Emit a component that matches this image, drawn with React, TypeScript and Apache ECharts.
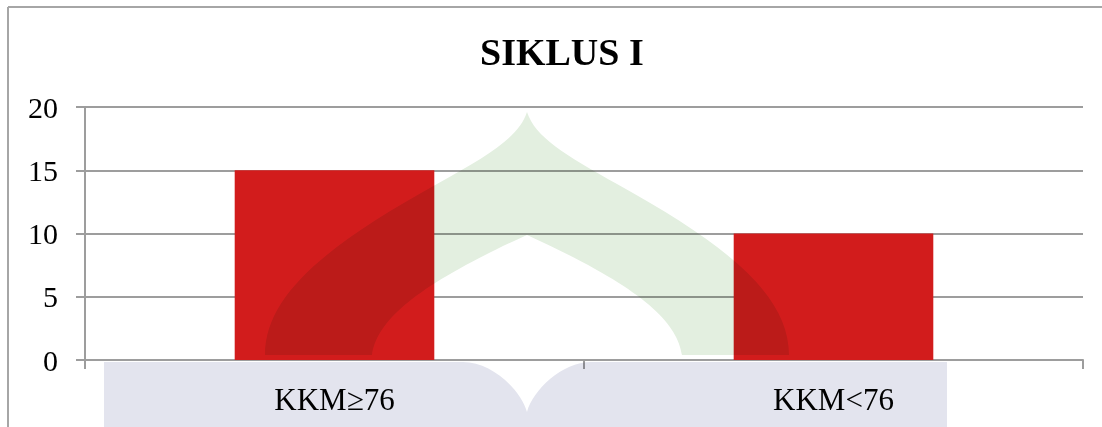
import React, { useEffect, useRef } from "react";
import * as echarts from "echarts";

const title = "SIKLUS I";
const categories = ["KKM≥76", "KKM<76"];
const values = [15, 10];
const yTicks = { min: 0, max: 20, interval: 5 };

const DOME_D =
  "M0,-243 C-8,-218 -38,-200 -90,-171 C-200,-110 -262,-60 -262,0 L-155,0 C-150,-35 -110,-70 0,-120 C110,-70 150,-35 155,0 L262,0 C262,-60 200,-110 90,-171 C38,-200 8,-218 0,-243 Z";
const BASE_D =
  "M-423,0 L-64,0 C-35,0 -6,28 0,50 C6,28 35,0 64,0 L420,0 L420,70 L-423,70 Z";

let registered = false;
function registerShapes() {
  if (registered) return;
  registered = true;
  echarts.graphic.registerShape("dome", echarts.graphic.extendPath(DOME_D, {}) as any);
  echarts.graphic.registerShape("base", echarts.graphic.extendPath(BASE_D, {}) as any);
}

const FONT = "'Liberation Serif', 'Times New Roman', serif";

export default function App() {
  const ref = useRef<HTMLDivElement>(null);
  useEffect(() => {
    if (!ref.current) return;
    registerShapes();
    const chart = echarts.init(ref.current, undefined, { renderer: "svg" });
    chart.setOption({
      animation: false,
      backgroundColor: "#ffffff",
      title: {
        text: title,
        left: 475,
        top: 28,
        textStyle: { fontFamily: FONT, fontSize: 38, fontWeight: "bold", color: "#000" },
      },
      grid: { left: 85, right: 19, top: 107, bottom: 67, containLabel: false },
      xAxis: {
        type: "category",
        data: categories,
        axisLine: { show: true, lineStyle: { color: "#9d9d9d", width: 2 } },
        axisTick: { show: true, length: 9, lineStyle: { color: "#9d9d9d", width: 2 } },
        axisLabel: { fontFamily: FONT, fontSize: 31, color: "#000", margin: 24 },
      },
      yAxis: {
        type: "value",
        min: yTicks.min,
        max: yTicks.max,
        interval: yTicks.interval,
        axisLine: { show: true, lineStyle: { color: "#9d9d9d", width: 2 } },
        axisTick: { show: true, length: 9, lineStyle: { color: "#9d9d9d", width: 2 } },
        splitLine: { show: true, lineStyle: { color: "#9d9d9d", width: 2 } },
        axisLabel: { fontFamily: FONT, fontSize: 30, color: "#000", margin: 27 },
      },
      series: [
        {
          type: "bar",
          data: values,
          barWidth: "40%",
          itemStyle: { color: "#d21c1c" },
        },
      ],
      graphic: [
        {
          type: "line",
          shape: { x1: 8, y1: 7, x2: 1102, y2: 7 },
          style: { stroke: "#a6a6a6", lineWidth: 2 },
        },
        {
          type: "line",
          shape: { x1: 8, y1: 7, x2: 8, y2: 427 },
          style: { stroke: "#a6a6a6", lineWidth: 2 },
        },
        {
          type: "dome",
          x: 527,
          y: 355,
          z: 50,
          silent: true,
          style: { fill: "#e3efe0" },
        },
        {
          type: "base",
          x: 527,
          y: 362,
          z: 50,
          silent: true,
          style: { fill: "#e3e4ee" },
        },
      ],
    });
    return () => chart.dispose();
  }, []);
  return (
    <>
      <style>{`
        #root svg path[fill="#e3efe0"], #root svg path[fill="#e3e4ee"],
        #root svg path[fill="rgb(227,239,224)"], #root svg path[fill="rgb(227,228,238)"] {
          mix-blend-mode: multiply;
        }
      `}</style>
      <div
        ref={ref}
        style={{ position: "absolute", left: 0, top: 0, width: 1102, height: 427 }}
      />
    </>
  );
}
